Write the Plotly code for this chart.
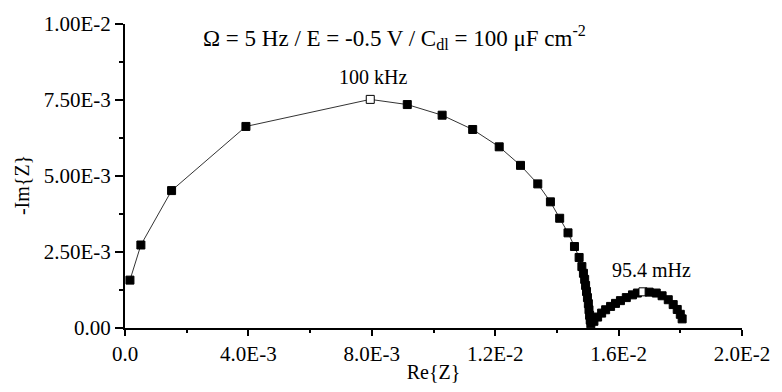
import plotly.graph_objects as go

# Nyquist data: real and negative imaginary parts of the impedance
re_z = [0.16e-3, 0.515e-3, 1.51e-3, 3.92e-3, 7.95e-3, 9.15e-3, 10.28e-3, 11.27e-3,
        12.13e-3, 12.82e-3, 13.38e-3, 13.79e-3, 14.09e-3, 14.36e-3, 14.57e-3, 14.72e-3,
        14.81e-3, 14.86e-3, 14.90e-3, 14.93e-3, 14.96e-3, 14.99e-3, 15.02e-3, 15.04e-3,
        15.06e-3, 15.08e-3, 15.10e-3,
        15.20e-3, 15.32e-3, 15.45e-3, 15.58e-3, 15.74e-3, 15.90e-3, 16.06e-3, 16.25e-3,
        16.45e-3, 16.61e-3, 16.79e-3, 16.99e-3, 17.22e-3, 17.41e-3, 17.61e-3, 17.77e-3,
        17.90e-3, 18.00e-3, 18.06e-3]
neg_im_z = [1.575e-3, 2.73e-3, 4.52e-3, 6.63e-3, 7.52e-3, 7.35e-3, 7.00e-3, 6.53e-3,
            5.96e-3, 5.35e-3, 4.74e-3, 4.15e-3, 3.61e-3, 3.13e-3, 2.68e-3, 2.32e-3,
            2.02e-3, 1.80e-3, 1.60e-3, 1.40e-3, 1.20e-3, 1.00e-3, 0.80e-3, 0.60e-3,
            0.42e-3, 0.26e-3, 0.14e-3,
            0.22e-3, 0.36e-3, 0.49e-3, 0.60e-3, 0.71e-3, 0.81e-3, 0.90e-3, 1.00e-3,
            1.09e-3, 1.15e-3, 1.19e-3, 1.18e-3, 1.15e-3, 1.06e-3, 0.93e-3, 0.77e-3,
            0.61e-3, 0.45e-3, 0.30e-3]

# Points labelled with their frequency (index into the arrays above)
labelled_idx = [4, 37]
labelled_freq = ["100 kHz", "95.4 mHz"]

x_tickvals = [0.0, 0.004, 0.008, 0.012, 0.016, 0.020]
x_ticktext = ["0.0", "4.0E-3", "8.0E-3", "1.2E-2", "1.6E-2", "2.0E-2"]
y_tickvals = [0.0, 0.0025, 0.005, 0.0075, 0.01]
y_ticktext = ["0.00", "2.50E-3", "5.00E-3", "7.50E-3", "1.00E-2"]

FONT = "'Liberation Serif', serif"

fill = ["white" if i in labelled_idx else "black" for i in range(len(re_z))]

fig = go.Figure()
fig.add_trace(go.Scatter(
    x=re_z, y=neg_im_z, mode="lines+markers",
    line=dict(color="#333333", width=1),
    marker=dict(symbol="square", size=8, color=fill,
                line=dict(color="black", width=1)),
    cliponaxis=False, showlegend=False,
))

x_shifts = [3, 9]
for idx, txt, xs in zip(labelled_idx, labelled_freq, x_shifts):
    fig.add_annotation(x=re_z[idx], y=neg_im_z[idx], text=txt, showarrow=False,
                       xshift=xs, yshift=22, font=dict(family=FONT, size=20, color="black"))

fig.add_annotation(
    xref="paper", yref="paper", x=0.437, y=0.955, xanchor="center", yanchor="middle",
    text="Ω = 5 Hz / E = -0.5 V / C<sub>dl</sub> = 100 μF cm<sup>-2</sup>",
    showarrow=False, font=dict(family=FONT, size=23, color="black"))

# vertical axis title
fig.add_annotation(
    xref="paper", yref="paper", x=-0.167, y=0.47, xanchor="center", yanchor="middle",
    text="-Im{Z}", textangle=-90, showarrow=False,
    font=dict(family=FONT, size=20, color="black"))

axis_common = dict(
    showline=True, linecolor="black", linewidth=2, showgrid=False, zeroline=False,
    ticks="outside", tickcolor="black", tickwidth=1.5,
    tickfont=dict(family=FONT, size=21, color="black"),
    mirror=False,
)

fig.update_xaxes(
    range=[0, 0.02], tickmode="array", tickvals=x_tickvals, ticktext=x_ticktext,
    ticklen=6, minor=dict(ticks="outside", ticklen=3, tickcolor="black", tickwidth=1.5,
                          dtick=0.002, tick0=0),
    title=dict(text="Re{Z}", standoff=0,
               font=dict(family=FONT, size=20, color="black")),
    **axis_common)
fig.update_yaxes(
    range=[0, 0.01], tickmode="array", tickvals=y_tickvals, ticktext=y_ticktext,
    ticklen=8, minor=dict(ticks="outside", ticklen=4, tickcolor="black", tickwidth=1.5,
                          dtick=0.00125, tick0=0),
    **axis_common)

fig.update_layout(
    width=782, height=392,
    margin=dict(l=125, r=35, t=23, b=58),
    paper_bgcolor="white", plot_bgcolor="white",
)

fig.write_html("out.html")
